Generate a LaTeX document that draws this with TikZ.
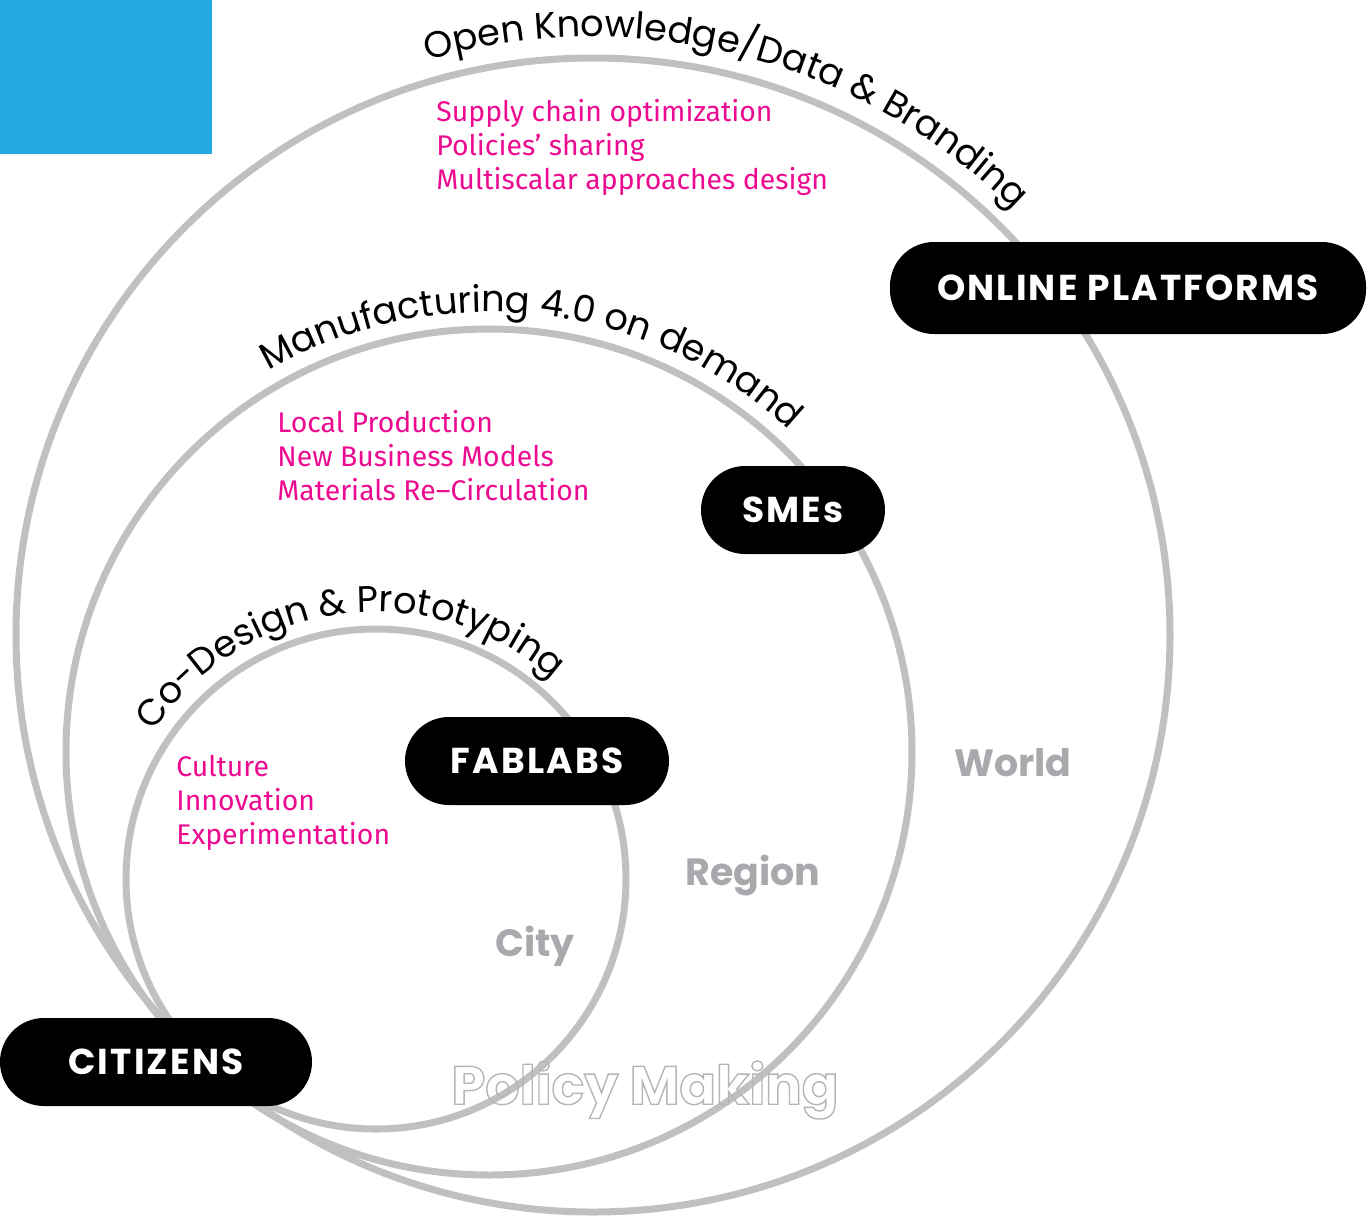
\documentclass[tikz,border=0pt]{standalone}
\usepackage{fontspec}
\setmainfont{Poppins}
\newfontfamily\pinkfont{Fira Sans}
\newfontfamily\arcfont{Poppins}
\usetikzlibrary{decorations.text,calc}
\definecolor{ringgray}{RGB}{190,192,194}
\definecolor{labgray}{RGB}{167,169,172}
\definecolor{polgray}{RGB}{180,182,184}
\definecolor{pinktxt}{RGB}{236,10,145}
\definecolor{bluebox}{RGB}{36,168,224}
\begin{document}
\begin{tikzpicture}[x=0.5pt,y=-0.5pt,
  ring/.style={draw=ringgray, line width=3.5pt},
  pill/.style={fill=black, text=white, rounded corners=22pt, inner sep=0pt,
    font=\bfseries\fontsize{18pt}{20pt}\selectfont\addfontfeatures{LetterSpace=6}},
  pinknote/.style={text=pinktxt, anchor=base west, inner sep=0pt,
    font=\pinkfont\fontsize{14.2pt}{17pt}\selectfont},
  scalelab/.style={text=labgray, inner sep=0pt, anchor=base,
    font=\bfseries\fontsize{19pt}{20pt}\selectfont}
]
\useasboundingbox (0,0) rectangle (1367,1217);
\node[fill=bluebox, anchor=north west, inner sep=0pt, minimum width=106pt, minimum height=77pt] (logo) at (0,0) {};

% centres
\coordinate (Oc) at (593,635);
\coordinate (Mc) at (489,752);
\coordinate (Ic) at (376,879);

% rings
\draw[ring] (Oc) circle[radius=577];
\draw[ring] (Mc) circle[radius=423];
\draw[ring] (Ic) circle[radius=250];

% arc texts
\path[decorate, decoration={text along path, text align=center,
   text={|\arcfont\fontsize{18.4pt}{20pt}\selectfont|Open Knowledge/Data {\&} Branding}}]
   ($(Oc)+(-120.7:598)$) arc[start angle=-120.7, end angle=-30.7, radius=598];
\path[decorate, decoration={text along path, text align=center,
   text={|\arcfont\fontsize{18.4pt}{20pt}\selectfont|Manufacturing 4.0 on demand}}]
   ($(Mc)+(-138.5:440)$) arc[start angle=-138.5, end angle=-28.5, radius=440];
\path[decorate, decoration={text along path, text align=center,
   text={|\arcfont\fontsize{18.4pt}{20pt}\selectfont|Co-Design {\&} Prototyping}}]
   ($(Ic)+(-172.5:267)$) arc[start angle=-172.5, end angle=-22.5, radius=267];

% pink notes
\node[pinknote] (s1) at (436,121) {Supply chain optimization};
\node[pinknote] (s2) at (436,155) {Policies’ sharing};
\node[pinknote] (s3) at (436,189) {Multiscalar approaches design};
\node[pinknote] (m1) at (277,432) {Local Production};
\node[pinknote] (m2) at (277,466) {New Business Models};
\node[pinknote] (m3) at (277,500) {Materials Re–Circulation};
\node[pinknote] (c1) at (176,776) {Culture};
\node[pinknote] (c2) at (176,810) {Innovation};
\node[pinknote] (c3) at (176,844) {Experimentation};

% scale labels
\node[scalelab] (world) at (1013,776) {World};
\node[scalelab] (region) at (753,885) {Region};
\node[scalelab] (city) at (535,956) {City};

% pills
\node[pill, minimum width=238pt, minimum height=46pt] (online) at (1128,288) {ONLINE PLATFORMS};
\node[pill, minimum width=92pt, minimum height=44pt] (smes) at (793,510) {SMEs};
\node[pill, minimum width=132pt, minimum height=44pt] (fablabs) at (537,761) {FABLABS};
\node[pill, minimum width=156pt, minimum height=44pt] (citizens) at (156,1062) {CITIZENS};

% outlined text
\node[text=polgray, inner sep=0pt, font=\bfseries\fontsize{27pt}{30pt}\selectfont] (policy) at (645,1090)
  {\special{pdf:literal direct 1 Tr 0.7 w 0.71 0.71 0.72 RG}Policy Making\special{pdf:literal direct 0 Tr}};
\end{tikzpicture}
\end{document}
